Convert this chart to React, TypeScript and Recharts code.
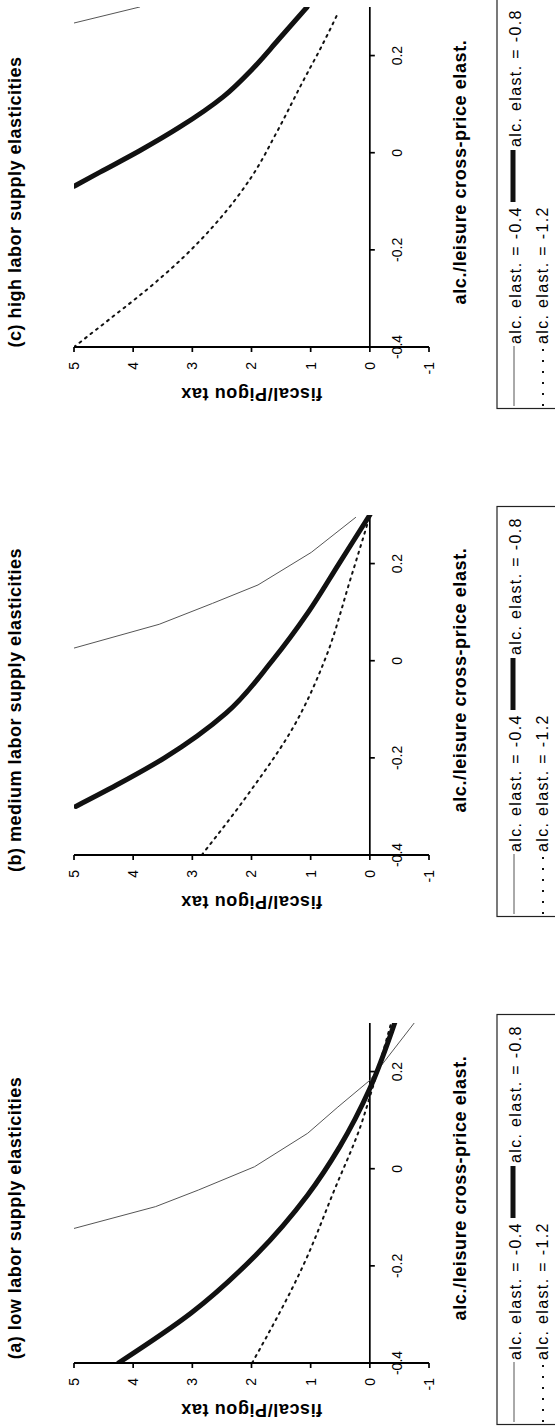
import { LineChart, Line, XAxis, YAxis, ReferenceLine } from 'recharts';

// x = alc./leisure cross-price elasticity, y = fiscal/Pigou tax
const xTicks = [-0.4, -0.2, 0, 0.2];
const yTicks = [-1, 0, 1, 2, 3, 4, 5];

// (a) low labor supply elasticities
const lowThinX = [-0.123, -0.078, -0.044, 0.004, 0.073, 0.127, 0.182, 0.3];
const lowThinY = [5, 3.62, 2.9, 1.95, 1.05, 0.54, 0, -0.75];
const lowThickX = [-0.4, -0.297, -0.177, -0.054, 0.045, 0.165, 0.3];
const lowThickY = [4.25, 3.02, 1.92, 1.05, 0.51, 0, -0.42];
const lowDotX = [-0.4, -0.195, -0.044, 0.09, 0.148, 0.3];
const lowDotY = [1.99, 1.11, 0.6, 0.15, 0, -0.36];

// (b) medium labor supply elasticities
const medThinX = [0.026, 0.075, 0.118, 0.156, 0.223, 0.295];
const medThinY = [5, 3.56, 2.66, 1.89, 0.99, 0.24];
const medThickX = [-0.3, -0.256, -0.2, -0.108, 0, 0.1, 0.2, 0.3];
const medThickY = [4.97, 4.28, 3.47, 2.43, 1.65, 1.04, 0.52, 0];
const medDotX = [-0.4, -0.277, -0.136, 0.005, 0.167, 0.29];
const medDotY = [2.84, 2.07, 1.29, 0.75, 0.33, 0.02];

// (c) high labor supply elasticities
const highThinX = [0.267, 0.3];
const highThinY = [5, 3.89];
const highThickX = [-0.069, -0.04, 0.004, 0.053, 0.115, 0.173, 0.232, 0.3];
const highThickY = [5, 4.56, 3.89, 3.21, 2.48, 1.98, 1.55, 1.06];
const highDotX = [-0.4, -0.338, -0.282, -0.214, -0.152, -0.048, 0.043, 0.147, 0.225, 0.287];
const highDotY = [5, 4.35, 3.77, 3.14, 2.65, 1.99, 1.57, 1.13, 0.79, 0.54];

const seriesNames = ['alc. elast. = -0.4', 'alc. elast. = -0.8', 'alc. elast. = -1.2'];

const zip = (xs: number[], ys: number[]) => xs.map((x, i) => ({ x, y: ys[i] }));

const panels = [
  { title: '(a) low labor supply elasticities', thin: zip(lowThinX, lowThinY), thick: zip(lowThickX, lowThickY), dot: zip(lowDotX, lowDotY) },
  { title: '(b) medium labor supply elasticities', thin: zip(medThinX, medThinY), thick: zip(medThickX, medThickY), dot: zip(medDotX, medDotY) },
  { title: '(c) high labor supply elasticities', thin: zip(highThinX, highThinY), thick: zip(highThickX, highThickY), dot: zip(highDotX, highDotY) },
];

// panel geometry (in the unrotated, landscape figure)
const PANEL_W = 508;
const PANEL_H = 555;
const PLOT_LEFT = 63;
const PLOT_RIGHT = 403;
const PLOT_TOP = 74;
const PLOT_BOTTOM = 429;
const Y_MIN = -1;
const Y_MAX = 5;
const ZERO_Y = PLOT_TOP + ((Y_MAX - 0) / (Y_MAX - Y_MIN)) * (PLOT_BOTTOM - PLOT_TOP);

const THIN = { stroke: '#555', strokeWidth: 1 };
const THICK = { stroke: '#111', strokeWidth: 5 };
const DOT = { stroke: '#111', strokeWidth: 2, strokeDasharray: '2 5' };

// x axis sits on y = 0, so ticks are drawn there instead of at the plot bottom
function XTick(props: any) {
  const { x, payload } = props;
  return (
    <g>
      <line x1={x} x2={x} y1={ZERO_Y} y2={ZERO_Y + 5} stroke="#000" strokeWidth={1.7} />
      <text x={x} y={ZERO_Y + 32} textAnchor="middle" fontSize={14} fill="#000">
        {String(payload.value)}
      </text>
    </g>
  );
}

function Panel({ panel }: { panel: typeof panels[number] }) {
  return (
    <div style={{ position: 'relative', width: PANEL_W, height: PANEL_H }}>
      <LineChart
        width={PANEL_W}
        height={PANEL_H}
        margin={{ top: PLOT_TOP, right: PANEL_W - PLOT_RIGHT, bottom: PANEL_H - PLOT_BOTTOM - 30, left: PLOT_LEFT - 60 }}
      >
        <XAxis
          type="number"
          dataKey="x"
          domain={[-0.4, 0.3]}
          ticks={xTicks}
          allowDataOverflow
          axisLine={false}
          tickLine={false}
          height={30}
          tick={<XTick />}
        />
        <YAxis
          type="number"
          dataKey="y"
          domain={[Y_MIN, Y_MAX]}
          ticks={yTicks}
          allowDataOverflow
          width={60}
          axisLine={{ stroke: '#000', strokeWidth: 2 }}
          tickLine={{ stroke: '#000', strokeWidth: 1.7 }}
          tickSize={5}
          tickMargin={10}
          tick={{ fill: '#000', fontSize: 14 }}
        />
        <ReferenceLine y={0} stroke="#000" strokeWidth={1.7} />
        <Line data={panel.thin} dataKey="y" type="linear" dot={false} isAnimationActive={false} strokeLinecap="round" strokeLinejoin="round" {...THIN} />
        <Line data={panel.dot} dataKey="y" type="monotone" dot={false} isAnimationActive={false} strokeLinecap="round" {...DOT} />
        <Line data={panel.thick} dataKey="y" type="monotone" dot={false} isAnimationActive={false} strokeLinecap="round" strokeLinejoin="round" {...THICK} />
      </LineChart>

      <svg
        width={PANEL_W}
        height={PANEL_H}
        style={{ position: 'absolute', left: 0, top: 0, pointerEvents: 'none', overflow: 'hidden' }}
      >
        <text x={208} y={21} textAnchor="middle" fontSize={18} fontWeight="bold" letterSpacing={0.5} fill="#000">
          {panel.title}
        </text>
        <text
          transform={`translate(22, ${(PLOT_TOP + PLOT_BOTTOM) / 2}) rotate(-90)`}
          textAnchor="middle"
          fontSize={18}
          fontWeight="bold"
          letterSpacing={0.6}
          fill="#000"
        >
          fiscal/Pigou tax
        </text>
        <text x={238} y={466} textAnchor="middle" fontSize={18} fontWeight="bold" letterSpacing={0.6} fill="#000">
          alc./leisure cross-price elast.
        </text>

        <rect x={1.5} y={497} width={410} height={100} fill="none" stroke="#222" strokeWidth={1.2} />
        <line x1={4} x2={64} y1={514} y2={514} {...THIN} />
        <text x={66} y={521} fontSize={16} letterSpacing={1.35} fill="#000">{seriesNames[0]}</text>
        <line x1={208} x2={260} y1={513} y2={513} {...THICK} />
        <text x={263} y={521} fontSize={16} letterSpacing={1.35} fill="#000">{seriesNames[1]}</text>
        <line x1={4} x2={64} y1={543} y2={543} stroke="#111" strokeWidth={2} strokeDasharray="2 9" />
        <text x={66} y={548} fontSize={16} letterSpacing={1.35} fill="#000">{seriesNames[2]}</text>
      </svg>
    </div>
  );
}

export default function App() {
  return (
    <div
      style={{
        position: 'absolute',
        left: 0,
        top: 0,
        width: 555,
        height: 1426,
        overflow: 'hidden',
        background: '#fff',
        fontFamily: '"Liberation Sans", Arial, sans-serif',
      }}
    >
      {/* the figure is landscape; it is turned a quarter turn counter-clockwise */}
      <div
        style={{
          position: 'absolute',
          left: 0,
          top: 0,
          width: PANEL_W * 3,
          height: PANEL_H,
          transformOrigin: '0 0',
          transform: 'translate(0px, 1426px) rotate(-90deg)',
        }}
      >
        {panels.map((p, i) => (
          <div key={p.title} style={{ position: 'absolute', left: i * PANEL_W, top: 0 }}>
            <Panel panel={p} />
          </div>
        ))}
      </div>
    </div>
  );
}
